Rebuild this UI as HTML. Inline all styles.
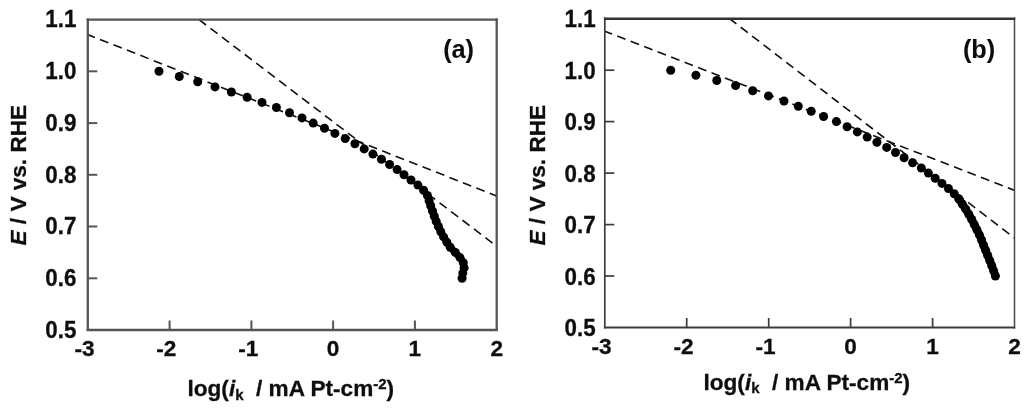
<!DOCTYPE html>
<html><head><meta charset="utf-8"><title>Tafel plots</title>
<style>
html,body{margin:0;padding:0;background:#fff;}
svg{display:block;}
text{font-family:"Liberation Sans",Arial,sans-serif;font-weight:bold;font-size:22.6px;fill:#111;stroke:#111;stroke-width:0.3px;white-space:pre;}
.dash{stroke:#111;stroke-width:1.6;fill:none;}
.d1{stroke-dasharray:8.9 5.55;stroke-dashoffset:1;}

.curve{fill:none;stroke:#000;stroke-linecap:round;stroke-linejoin:round;}
circle{fill:#000;}
</style></head>
<body>
<svg width="1024" height="413" viewBox="0 0 1024 413">
<defs><filter id="soft" x="0" y="0" width="1024" height="413" filterUnits="userSpaceOnUse"><feGaussianBlur stdDeviation="0.5"/></filter></defs>
<rect width="1024" height="413" fill="#fff"/>
<g filter="url(#soft)">
<g>
<line x1="87.5" y1="34.5" x2="497.1" y2="196.2" class="dash d1"/>
<line x1="199.0" y1="19.6" x2="497.1" y2="246.6" class="dash d2" stroke-dasharray="8.9 5.5"/>
<line x1="87.8" y1="18.5" x2="87.8" y2="331.1" stroke="#555" stroke-width="2.3"/>
<line x1="496.7" y1="18.5" x2="496.7" y2="331.1" stroke="#555" stroke-width="2.3"/>
<line x1="86.6" y1="19.6" x2="497.8" y2="19.6" stroke="#555" stroke-width="2.3"/>
<line x1="86.6" y1="330.0" x2="497.8" y2="330.0" stroke="#555" stroke-width="2.3"/>
<line x1="87.8" y1="71.3" x2="97.3" y2="71.3" class="tick" stroke="#555" stroke-width="2.0"/>
<line x1="87.8" y1="123.1" x2="97.3" y2="123.1" class="tick" stroke="#555" stroke-width="2.0"/>
<line x1="87.8" y1="174.8" x2="97.3" y2="174.8" class="tick" stroke="#555" stroke-width="2.0"/>
<line x1="87.8" y1="226.5" x2="97.3" y2="226.5" class="tick" stroke="#555" stroke-width="2.0"/>
<line x1="87.8" y1="278.3" x2="97.3" y2="278.3" class="tick" stroke="#555" stroke-width="2.0"/>
<line x1="169.6" y1="330.0" x2="169.6" y2="320.5" class="tick" stroke="#555" stroke-width="2.0"/>
<line x1="251.4" y1="330.0" x2="251.4" y2="320.5" class="tick" stroke="#555" stroke-width="2.0"/>
<line x1="333.1" y1="330.0" x2="333.1" y2="320.5" class="tick" stroke="#555" stroke-width="2.0"/>
<line x1="414.9" y1="330.0" x2="414.9" y2="320.5" class="tick" stroke="#555" stroke-width="2.0"/>
<text transform="translate(76.4,27.3) scale(0.99,1.05)" text-anchor="end">1.1</text>
<text transform="translate(76.4,79.0) scale(0.99,1.05)" text-anchor="end">1.0</text>
<text transform="translate(76.4,130.8) scale(0.99,1.05)" text-anchor="end">0.9</text>
<text transform="translate(76.4,182.5) scale(0.99,1.05)" text-anchor="end">0.8</text>
<text transform="translate(76.4,234.2) scale(0.99,1.05)" text-anchor="end">0.7</text>
<text transform="translate(76.4,286.0) scale(0.99,1.05)" text-anchor="end">0.6</text>
<text transform="translate(76.4,337.7) scale(0.99,1.05)" text-anchor="end">0.5</text>
<text x="84.6" y="356.3" text-anchor="middle">-3</text>
<text x="166.4" y="356.3" text-anchor="middle">-2</text>
<text x="248.2" y="356.3" text-anchor="middle">-1</text>
<text x="333.1" y="356.3" text-anchor="middle">0</text>
<text x="414.9" y="356.3" text-anchor="middle">1</text>
<text x="496.7" y="356.3" text-anchor="middle">2</text>
<circle cx="159.0" cy="71.3" r="4.5"/>
<circle cx="179.3" cy="76.5" r="4.5"/>
<circle cx="197.7" cy="81.7" r="4.5"/>
<circle cx="215.0" cy="86.9" r="4.5"/>
<circle cx="231.4" cy="92.0" r="4.5"/>
<circle cx="247.1" cy="97.2" r="4.5"/>
<circle cx="262.0" cy="102.4" r="4.5"/>
<circle cx="276.4" cy="107.5" r="4.5"/>
<circle cx="289.5" cy="112.7" r="4.5"/>
<circle cx="302.0" cy="117.9" r="4.5"/>
<circle cx="313.2" cy="123.1" r="4.5"/>
<circle cx="324.5" cy="128.2" r="4.5"/>
<circle cx="334.9" cy="133.4" r="4.5"/>
<circle cx="345.2" cy="138.6" r="4.5"/>
<circle cx="354.9" cy="143.8" r="4.5"/>
<circle cx="364.2" cy="148.9" r="4.5"/>
<circle cx="372.9" cy="154.1" r="4.5"/>
<circle cx="381.4" cy="159.3" r="4.5"/>
<circle cx="389.6" cy="164.5" r="4.5"/>
<circle cx="397.1" cy="169.6" r="4.5"/>
<circle cx="404.0" cy="174.8" r="4.5"/>
<circle cx="411.0" cy="180.0" r="4.5"/>
<circle cx="417.9" cy="185.1" r="4.5"/>
<circle cx="423.6" cy="190.3" r="4.5"/>
<circle cx="427.4" cy="195.5" r="4.5"/>
<circle cx="429.1" cy="200.7" r="4.5"/>
<circle cx="430.7" cy="205.8" r="4.5"/>
<circle cx="432.5" cy="211.0" r="4.5"/>
<circle cx="434.3" cy="216.2" r="4.5"/>
<circle cx="436.2" cy="221.4" r="4.5"/>
<circle cx="438.4" cy="226.5" r="4.5"/>
<circle cx="440.8" cy="231.7" r="4.5"/>
<circle cx="443.6" cy="236.9" r="4.5"/>
<circle cx="446.8" cy="242.1" r="4.5"/>
<circle cx="450.2" cy="247.2" r="4.5"/>
<circle cx="455.3" cy="252.4" r="4.5"/>
<circle cx="460.0" cy="257.6" r="4.5"/>
<circle cx="463.3" cy="262.7" r="4.5"/>
<circle cx="464.1" cy="267.9" r="4.5"/>
<circle cx="462.8" cy="273.1" r="4.5"/>
<circle cx="462.1" cy="278.3" r="4.5"/>
<polyline points="427.4,195.5 429.1,200.7 430.7,205.8 432.5,211.0 434.3,216.2 436.2,221.4 438.4,226.5 440.8,231.7 443.6,236.9 446.8,242.1 450.2,247.2 455.3,252.4 460.0,257.6 463.3,262.7 464.1,267.9 462.8,273.1 462.1,278.3" class="curve" stroke-width="7.0"/>
<text x="458.6" y="58.1" text-anchor="middle" style="font-size:25.3px;stroke-width:0.1px">(a)</text>
<text transform="translate(26,175.2) rotate(-90)" text-anchor="middle"><tspan font-style="italic">E</tspan> / V vs. RHE</text>
<text x="290.8" y="396.3" text-anchor="middle">log(<tspan font-style="italic">i</tspan><tspan font-size="15" dy="3.8">k</tspan><tspan dy="-3.8">  / mA Pt-cm</tspan><tspan font-size="15" dy="-7">-2</tspan><tspan dy="7">)</tspan></text>
</g>
<g>
<line x1="604.7" y1="31.2" x2="1014.7" y2="190.4" class="dash d1"/>
<line x1="729.4" y1="18.5" x2="1014.7" y2="238.2" class="dash d2" stroke-dasharray="8.9 5.45"/>
<line x1="604.8" y1="17.5" x2="604.8" y2="328.6" stroke="#3c3c3c" stroke-width="1.7"/>
<line x1="1014.5" y1="17.5" x2="1014.5" y2="328.6" stroke="#484848" stroke-width="1.5"/>
<line x1="603.9" y1="18.7" x2="1015.2" y2="18.7" stroke="#333" stroke-width="2.4"/>
<line x1="603.9" y1="327.5" x2="1015.2" y2="327.5" stroke="#3c3c3c" stroke-width="2.1"/>
<line x1="604.8" y1="70.2" x2="614.3" y2="70.2" class="tick" stroke="#3c3c3c" stroke-width="1.7"/>
<line x1="604.8" y1="121.6" x2="614.3" y2="121.6" class="tick" stroke="#3c3c3c" stroke-width="1.7"/>
<line x1="604.8" y1="173.1" x2="614.3" y2="173.1" class="tick" stroke="#3c3c3c" stroke-width="1.7"/>
<line x1="604.8" y1="224.6" x2="614.3" y2="224.6" class="tick" stroke="#3c3c3c" stroke-width="1.7"/>
<line x1="604.8" y1="276.0" x2="614.3" y2="276.0" class="tick" stroke="#3c3c3c" stroke-width="1.7"/>
<line x1="686.7" y1="327.5" x2="686.7" y2="318.0" class="tick" stroke="#3c3c3c" stroke-width="1.7"/>
<line x1="768.7" y1="327.5" x2="768.7" y2="318.0" class="tick" stroke="#3c3c3c" stroke-width="1.7"/>
<line x1="850.6" y1="327.5" x2="850.6" y2="318.0" class="tick" stroke="#3c3c3c" stroke-width="1.7"/>
<line x1="932.6" y1="327.5" x2="932.6" y2="318.0" class="tick" stroke="#3c3c3c" stroke-width="1.7"/>
<text transform="translate(595.6,27.3) scale(0.99,1.05)" text-anchor="end">1.1</text>
<text transform="translate(595.6,78.8) scale(0.99,1.05)" text-anchor="end">1.0</text>
<text transform="translate(595.6,130.2) scale(0.99,1.05)" text-anchor="end">0.9</text>
<text transform="translate(595.6,181.7) scale(0.99,1.05)" text-anchor="end">0.8</text>
<text transform="translate(595.6,233.2) scale(0.99,1.05)" text-anchor="end">0.7</text>
<text transform="translate(595.6,284.6) scale(0.99,1.05)" text-anchor="end">0.6</text>
<text transform="translate(595.6,336.1) scale(0.99,1.05)" text-anchor="end">0.5</text>
<text x="601.6" y="353.5" text-anchor="middle">-3</text>
<text x="683.5" y="353.5" text-anchor="middle">-2</text>
<text x="765.5" y="353.5" text-anchor="middle">-1</text>
<text x="850.6" y="353.5" text-anchor="middle">0</text>
<text x="932.6" y="353.5" text-anchor="middle">1</text>
<text x="1014.5" y="353.5" text-anchor="middle">2</text>
<circle cx="670.7" cy="70.2" r="4.5"/>
<circle cx="695.9" cy="75.3" r="4.5"/>
<circle cx="716.8" cy="80.5" r="4.5"/>
<circle cx="735.6" cy="85.6" r="4.5"/>
<circle cx="752.7" cy="90.8" r="4.5"/>
<circle cx="768.5" cy="95.9" r="4.5"/>
<circle cx="784.0" cy="101.0" r="4.5"/>
<circle cx="798.3" cy="106.2" r="4.5"/>
<circle cx="811.2" cy="111.3" r="4.5"/>
<circle cx="823.6" cy="116.5" r="4.5"/>
<circle cx="836.4" cy="121.6" r="4.5"/>
<circle cx="847.1" cy="126.8" r="4.5"/>
<circle cx="857.3" cy="131.9" r="4.5"/>
<circle cx="867.2" cy="137.1" r="4.5"/>
<circle cx="876.9" cy="142.2" r="4.5"/>
<circle cx="886.7" cy="147.4" r="4.5"/>
<circle cx="895.5" cy="152.5" r="4.5"/>
<circle cx="904.1" cy="157.7" r="4.5"/>
<circle cx="912.6" cy="162.8" r="4.5"/>
<circle cx="921.3" cy="168.0" r="4.5"/>
<circle cx="928.4" cy="173.1" r="4.5"/>
<circle cx="935.2" cy="178.2" r="4.5"/>
<circle cx="942.0" cy="183.4" r="4.5"/>
<circle cx="948.4" cy="188.5" r="4.5"/>
<circle cx="954.2" cy="193.7" r="4.5"/>
<circle cx="958.7" cy="198.8" r="4.5"/>
<circle cx="962.3" cy="204.0" r="4.5"/>
<circle cx="965.7" cy="209.1" r="4.5"/>
<circle cx="968.8" cy="214.3" r="4.5"/>
<circle cx="971.7" cy="219.4" r="4.5"/>
<circle cx="974.3" cy="224.6" r="4.5"/>
<circle cx="976.9" cy="229.7" r="4.5"/>
<circle cx="979.4" cy="234.9" r="4.5"/>
<circle cx="981.6" cy="240.0" r="4.5"/>
<circle cx="983.6" cy="245.2" r="4.5"/>
<circle cx="985.6" cy="250.3" r="4.5"/>
<circle cx="987.7" cy="255.4" r="4.5"/>
<circle cx="989.8" cy="260.6" r="4.5"/>
<circle cx="991.8" cy="265.7" r="4.5"/>
<circle cx="993.7" cy="270.9" r="4.5"/>
<circle cx="995.4" cy="276.0" r="4.5"/>
<polyline points="958.7,198.8 962.3,204.0 965.7,209.1 968.8,214.3 971.7,219.4 974.3,224.6 976.9,229.7 979.4,234.9 981.6,240.0 983.6,245.2 985.6,250.3 987.7,255.4 989.8,260.6 991.8,265.7 993.7,270.9 995.4,276.0" class="curve" stroke-width="7.8"/>
<text x="979.1" y="57.6" text-anchor="middle" style="font-size:25.3px;stroke-width:0.1px">(b)</text>
<text transform="translate(545.2,175.2) rotate(-90)" text-anchor="middle"><tspan font-style="italic">E</tspan> / V vs. RHE</text>
<text x="806.8" y="389.6" text-anchor="middle">log(<tspan font-style="italic">i</tspan><tspan font-size="15" dy="3.8">k</tspan><tspan dy="-3.8">  / mA Pt-cm</tspan><tspan font-size="15" dy="-7">-2</tspan><tspan dy="7">)</tspan></text>
</g>
</g>
</svg>
</body></html>
